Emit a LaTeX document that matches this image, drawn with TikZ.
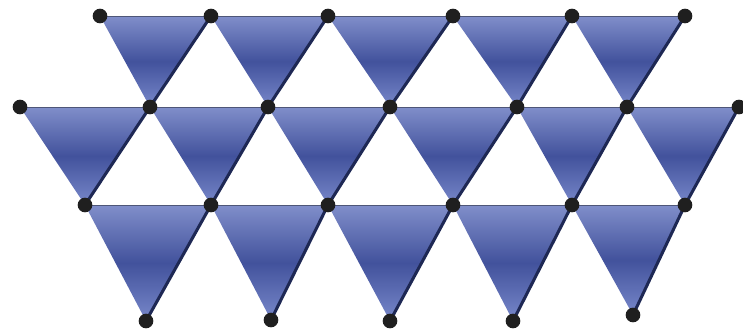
\documentclass[tikz,border=0pt]{standalone}
\usepackage{tikz}

\definecolor{triTop}{RGB}{128,142,202}
\definecolor{triMid}{RGB}{66,82,156}
\definecolor{triLow}{RGB}{120,136,202}
\definecolor{triEdge}{RGB}{30,40,84}
\definecolor{triRim}{RGB}{78,86,120}

\tikzset{
  tri/.style={top color=triTop, bottom color=triLow, middle color=triMid},
  ridge/.style={draw=triEdge, line width=2.6pt, line cap=round},
  rim/.style={draw=triRim, line width=0.8pt},
  vtx/.style={fill=black!88}
}

\begin{document}
\begin{tikzpicture}[x=0.03cm, y=-0.03cm]
        % image frame, pixel units with y pointing down
        \useasboundingbox (0,0) rectangle (743,336);
        % lattice points, row a (top) to row d (bottom)
        \coordinate (a1) at (100,16);  \coordinate (a2) at (211,16);
        \coordinate (a3) at (328,16);  \coordinate (a4) at (453,16);
        \coordinate (a5) at (572,16);  \coordinate (a6) at (685,16);
        \coordinate (b0) at (20,107);  \coordinate (b1) at (150,107);
        \coordinate (b2) at (268,107); \coordinate (b3) at (390,107);
        \coordinate (b4) at (517,107); \coordinate (b5) at (627,107);
        \coordinate (b6) at (739,107);
        \coordinate (c1) at (85,205);  \coordinate (c2) at (211,205);
        \coordinate (c3) at (328,205); \coordinate (c4) at (453,205);
        \coordinate (c5) at (572,205); \coordinate (c6) at (685,205);
        \coordinate (d1) at (146,321); \coordinate (d2) at (271,320);
        \coordinate (d3) at (390,321); \coordinate (d4) at (513,321);
        \coordinate (d5) at (633,315);
        % upper row
        \shade[tri] (a1) -- (a2) -- (b1) -- cycle;
        \shade[tri] (a2) -- (a3) -- (b2) -- cycle;
        \shade[tri] (a3) -- (a4) -- (b3) -- cycle;
        \shade[tri] (a4) -- (a5) -- (b4) -- cycle;
        \shade[tri] (a5) -- (a6) -- (b5) -- cycle;
        % middle row
        \shade[tri] (b0) -- (b1) -- (c1) -- cycle;
        \shade[tri] (b1) -- (b2) -- (c2) -- cycle;
        \shade[tri] (b2) -- (b3) -- (c3) -- cycle;
        \shade[tri] (b3) -- (b4) -- (c4) -- cycle;
        \shade[tri] (b4) -- (b5) -- (c5) -- cycle;
        \shade[tri] (b5) -- (b6) -- (c6) -- cycle;
        % lower row
        \shade[tri] (c1) -- (c2) -- (d1) -- cycle;
        \shade[tri] (c2) -- (c3) -- (d2) -- cycle;
        \shade[tri] (c3) -- (c4) -- (d3) -- cycle;
        \shade[tri] (c4) -- (c5) -- (d4) -- cycle;
        \shade[tri] (c5) -- (c6) -- (d5) -- cycle;
        % top rims
        \draw[rim] (a1) -- (a6);
        \draw[rim] (b0) -- (b6);
        \draw[rim] (c1) -- (c6);
        % shadowed right edges
        \draw[ridge] (a2) -- (b1);
        \draw[ridge] (a3) -- (b2);
        \draw[ridge] (a4) -- (b3);
        \draw[ridge] (a5) -- (b4);
        \draw[ridge] (a6) -- (b5);
        \draw[ridge] (b1) -- (c1);
        \draw[ridge] (b2) -- (c2);
        \draw[ridge] (b3) -- (c3);
        \draw[ridge] (b4) -- (c4);
        \draw[ridge] (b5) -- (c5);
        \draw[ridge] (b6) -- (c6);
        \draw[ridge] (c2) -- (d1);
        \draw[ridge] (c3) -- (d2);
        \draw[ridge] (c4) -- (d3);
        \draw[ridge] (c5) -- (d4);
        \draw[ridge] (c6) -- (d5);
        % vertices
        \foreach \p in {a1,a2,a3,a4,a5,a6,b0,b1,b2,b3,b4,b5,b6,c1,c2,c3,c4,c5,c6,d1,d2,d3,d4,d5}
          \fill[vtx] (\p) circle (2.2mm);
      \end{tikzpicture}
\end{document}
